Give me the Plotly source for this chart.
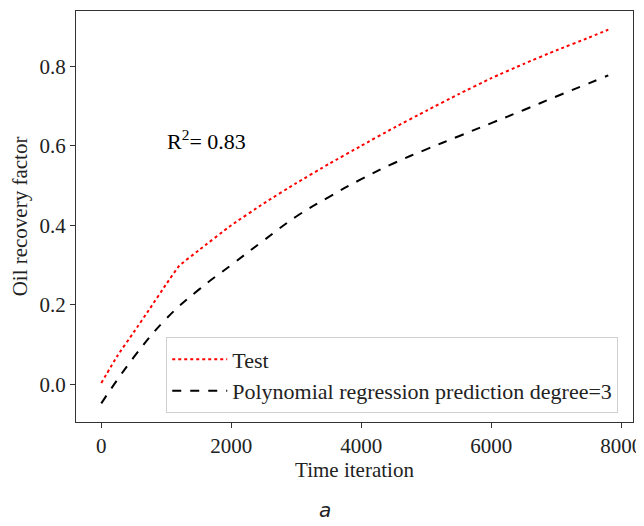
import plotly.graph_objects as go

# Data
time_iter = [0, 250, 500, 750, 1000, 1200, 1500, 2000, 2500, 3000, 3500, 4000,
             4500, 5000, 5500, 6000, 6500, 7000, 7500, 7800]
test_vals = [0.003, 0.072, 0.131, 0.191, 0.252, 0.298, 0.337, 0.400, 0.455, 0.506,
             0.554, 0.600, 0.645, 0.688, 0.730, 0.770, 0.806, 0.840, 0.872, 0.892]
pred_time = [0, 500, 1000, 1500, 2000, 2500, 3000, 3500, 4000, 4500, 5000,
             5500, 6000, 6500, 7000, 7500, 7800]
pred_vals = [-0.048, 0.068, 0.165, 0.238, 0.300, 0.362, 0.422, 0.471, 0.516, 0.556,
             0.591, 0.624, 0.657, 0.690, 0.724, 0.757, 0.777]
x_ticks = [0, 2000, 4000, 6000, 8000]
y_ticks = [0.0, 0.2, 0.4, 0.6, 0.8]
y_tick_labels = ["0.0", "0.2", "0.4", "0.6", "0.8"]

serif = "Liberation Serif, Times New Roman, serif"

# page body has an 8px margin, so the figure is sized to fit inside the window
W, H = 636, 518
L, R, T, B = 68, 11, 3, 104

fig = go.Figure()
fig.add_trace(go.Scatter(x=time_iter, y=test_vals, mode="lines", name="Test",
                         line=dict(color="red", width=2, dash="dot",
                                   shape="spline", smoothing=0.4)))
fig.add_trace(go.Scatter(x=pred_time, y=pred_vals, mode="lines",
                         name="Polynomial regression prediction degree=3",
                         line=dict(color="black", width=2, dash="dash",
                                   shape="spline", smoothing=1.2)))

fig.add_annotation(x=985, y=0.614, xref="x", yref="y", xanchor="left", yanchor="middle",
                   text="R<sup>2</sup>= 0.83", showarrow=False,
                   font=dict(family=serif, size=22, color="black"))
plot_h = H - T - B
plot_w = W - L - R
fig.add_annotation(x=(325 - 8 - L) / plot_w, y=-(510 - 8 - (H - B)) / plot_h,
                   xref="paper", yref="paper", xanchor="center", yanchor="middle",
                   text="<i>a</i>", showarrow=False,
                   font=dict(family="DejaVu Sans, sans-serif", size=20, color="#222"))

axis_common = dict(showline=True, linecolor="#333", linewidth=1.3, mirror=True,
                   ticks="outside", ticklen=5, tickwidth=1, tickcolor="#333",
                   showgrid=False, zeroline=False, automargin=False,
                   tickfont=dict(family=serif, size=21, color="#222"))

fig.update_layout(
    width=W, height=H,
    margin=dict(l=L, r=R, t=T, b=B),
    plot_bgcolor="white", paper_bgcolor="white",
    font=dict(family=serif, size=21, color="#222"),
    xaxis=dict(range=[-389, 8180], tickvals=x_ticks,
               title=dict(text="Time iteration", standoff=2,
                          font=dict(family=serif, size=21, color="#222")),
               **axis_common),
    yaxis=dict(range=[-0.095, 0.939], tickvals=y_ticks, ticktext=y_tick_labels,
               title=dict(text="Oil recovery factor", standoff=8,
                          font=dict(family=serif, size=21, color="#222")),
               **axis_common),
    legend=dict(x=0.162, y=0.021, xanchor="left", yanchor="bottom",
                bgcolor="rgba(255,255,255,0.8)", bordercolor="#d0d0d0", borderwidth=1,
                font=dict(family=serif, size=22, color="#222"),
                itemwidth=55, tracegroupgap=0),
    showlegend=True,
)

fig.write_html("out.html")
